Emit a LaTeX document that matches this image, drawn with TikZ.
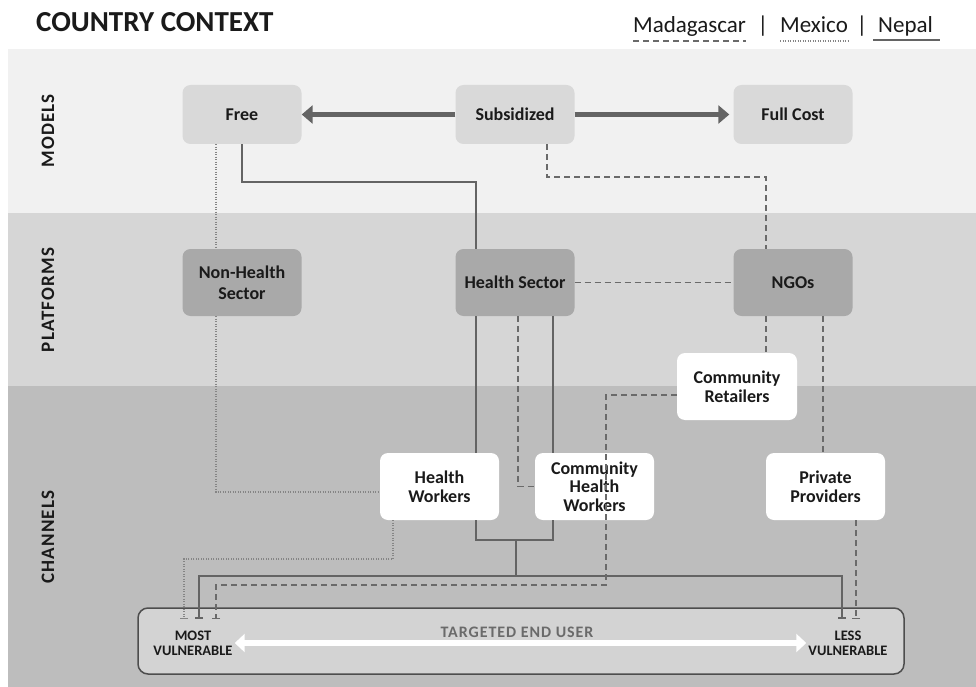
\documentclass[tikz,border=0pt]{standalone}
\usepackage{fontspec}
\setmainfont{Carlito}
\newfontfamily\spacedfont[LetterSpace=6]{Carlito}
\usetikzlibrary{arrows.meta,calc}
\definecolor{bandA}{HTML}{F1F1F1}
\definecolor{bandB}{HTML}{D6D6D6}
\definecolor{bandC}{HTML}{BDBDBD}
\definecolor{modelfill}{HTML}{D9D9D9}
\definecolor{platfill}{HTML}{A9A9A9}
\definecolor{linegray}{HTML}{646464}
\definecolor{dashgray}{HTML}{6A6A6A}
\definecolor{dotgray}{HTML}{858585}
\definecolor{txt}{HTML}{1A1A1A}
\definecolor{endtxt}{HTML}{6A6A6A}
\definecolor{boxfill}{HTML}{D3D3D3}
\definecolor{boxline}{HTML}{4D4D4D}
\tikzset{
  box/.style={rounded corners=8pt, align=center, text=txt, font=\bfseries\fontsize{18}{21}\selectfont, minimum width=119pt, inner sep=2pt},
  modelbox/.style={box, fill=modelfill, minimum height=59pt},
  platbox/.style={box, fill=platfill, minimum height=67pt},
  chanbox/.style={box, fill=white, minimum height=67pt, font=\bfseries\fontsize{18}{18.5}\selectfont},
  nepal/.style={draw=linegray, line width=2.5pt},
  mada/.style={draw=dashgray, line width=1.5pt, dash pattern=on 6pt off 4pt},
  mex/.style={draw=dotgray, line width=1.5pt, dash pattern=on 1.2pt off 1.3pt},
  bigarrow/.style={draw=linegray, line width=5pt, -{Triangle[length=11pt,width=18pt]}},
  wharrow/.style={draw=white, line width=6pt, {Triangle[length=10pt,width=18pt]}-{Triangle[length=10pt,width=18pt]}},
  bandlabel/.style={rotate=90, text=txt, font=\spacedfont\bfseries\fontsize{19}{19}\selectfont},
  legend/.style={anchor=base west, inner sep=0pt, text=txt, font=\fontsize{23}{24}\selectfont},
  endlabel/.style={align=center, text=txt, inner sep=2pt, font=\bfseries\fontsize{14.5}{15}\selectfont},
  tipbar/.style={-{Bar[width=8pt]}},
}
\begin{document}
\begin{tikzpicture}[x=1pt,y=-1pt]
\useasboundingbox (0,0) rectangle (976,687);
\fill[white] (0,0) rectangle (976,687);
% bands
\fill[bandA] (8,49) rectangle (976,213);
\fill[bandB] (8,213) rectangle (976,386);
\fill[bandC] (8,386) rectangle (976,687);
\node[bandlabel] (lmodels) at (48,131) {MODELS};
\node[bandlabel] (lplat) at (48,300) {PLATFORMS};
\node[bandlabel] (lchan) at (48,537) {CHANNELS};
% header
\node[anchor=base west, inner sep=0pt, text=txt, font=\bfseries\fontsize{29}{30}\selectfont] (title) at (36,32) {COUNTRY CONTEXT};
\node[legend] (lmad) at (633,33) {Madagascar};
\node[legend, anchor=base] (sep1) at (763,33) {|};
\node[legend] (lmex) at (780,33) {Mexico};
\node[legend, anchor=base] (sep2) at (862,33) {|};
\node[legend] (lnep) at (878,33) {Nepal};
\draw[mada] ($(lmad.base west)+(0,8)$) -- ($(lmad.base east)+(0,8)$);
\draw[mex] ($(lmex.base west)+(0,8)$) -- ($(lmex.base east)+(0,8)$);
\draw[draw=linegray, line width=2.5pt] ($(lnep.base west)+(-5,7)$) -- ($(lnep.base east)+(7,7)$);
% nodes
\node[modelbox] (free) at (242,114.5) {Free};
\node[modelbox] (sub) at (515,114.5) {Subsidized};
\node[modelbox] (full) at (793,114.5) {Full Cost};
\node[platbox] (nhs) at (242,282.5) {Non-Health\\Sector};
\node[platbox] (hs) at (515,282.5) {Health Sector};
\node[platbox] (ngo) at (793,282.5) {NGOs};
\node[chanbox, minimum width=120pt] (cr) at (737,386.5) {Community\\Retailers};
\node[chanbox] (pp) at (825.5,486.5) {Private\\Providers};
\node[chanbox] (hw) at (439.5,486.5) {Health\\Workers};
\node[chanbox] (chw) at (594.5,486.5) {Community\\Health\\Workers};
% end user box
\node[draw=boxline, line width=1.5pt, fill=boxfill, rounded corners=10pt, minimum width=766pt, minimum height=66pt, inner sep=0pt] (eu) at (521,641) {};
\node[endlabel] (mv) at (193,643) {MOST\\VULNERABLE};
\node[endlabel] (lv) at (848,643) {LESS\\VULNERABLE};
\node[text=endtxt, inner sep=0pt, font=\spacedfont\bfseries\fontsize{16}{16}\selectfont] (teu) at (517,632) {TARGETED END USER};
\draw[wharrow] (mv.east) -- (lv.west);
% helper coordinates
\coordinate (c184) at (184,0);
\coordinate (c216) at (216,0);
\coordinate (c393) at (393,0);
\coordinate (c476) at (476,0);
\coordinate (c516) at (516,0);
\coordinate (c518) at (518,0);
\coordinate (c547) at (547,0);
\coordinate (c553) at (553,0);
\coordinate (c606) at (606,0);
\coordinate (c766) at (766,0);
\coordinate (c823) at (823,0);
\coordinate (c856) at (856,0);
\coordinate (r177) at (0,177);
\coordinate (r182) at (0,182);
\coordinate (r395) at (0,395);
\coordinate (r492) at (0,492);
\coordinate (r540) at (0,540);
\coordinate (r559) at (0,559);
\coordinate (r576) at (0,576);
\coordinate (r585) at (0,585);
\coordinate (tA) at (184,619);
\coordinate (tB) at (199,619);
\coordinate (tC) at (216,619);
\coordinate (tD) at (842,619);
\coordinate (tE) at (856,619);
\coordinate (jn) at (516,540);
\coordinate (jm) at (516,576);
% model arrows
\draw[bigarrow] (sub.west) -- (free.east);
\draw[bigarrow, shorten >=4pt] (sub.east) -- (full.west);
% Nepal (solid)
\draw[nepal] (free.south) -- (free.south |- r182) -| (hs.north -| c476);
\draw[nepal] (hs.south -| c476) -- (hw.north -| c476);
\draw[nepal] (hs.south -| c553) -- (chw.north -| c553);
\draw[nepal] (hw.south -| c476) -- (c476 |- r540) -| (chw.south -| c553);
\draw[nepal] (jn) -- (jm);
\draw[nepal, {Bar[width=8pt]}-{Bar[width=8pt]}] (tB) |- (jm) -| (tD);
% Madagascar (dashed)
\draw[mada] (sub.south -| c547) -- (c547 |- r177) -| (ngo.north -| c766);
\draw[mada] (hs.east) -- (ngo.west);
\draw[mada] (hs.south -| c518) |- (chw.west);
\draw[mada] (ngo.south -| c766) -- (cr.north -| c766);
\draw[mada] (ngo.south -| c823) -- (pp.north -| c823);
\draw[mada, tipbar] (cr.west |- r395) -| (c606 |- r585) -| (tC);
\draw[mada, tipbar] (pp.south -| c856) -- (tE);
% Mexico (dotted)
\draw[mex] (free.south -| c216) -- (nhs.north -| c216);
\draw[mex] (nhs.south -| c216) |- (hw.west |- r492);
\draw[mex, tipbar] (hw.south -| c393) |- (c184 |- r559) -- (tA);
\end{tikzpicture}
\end{document}
